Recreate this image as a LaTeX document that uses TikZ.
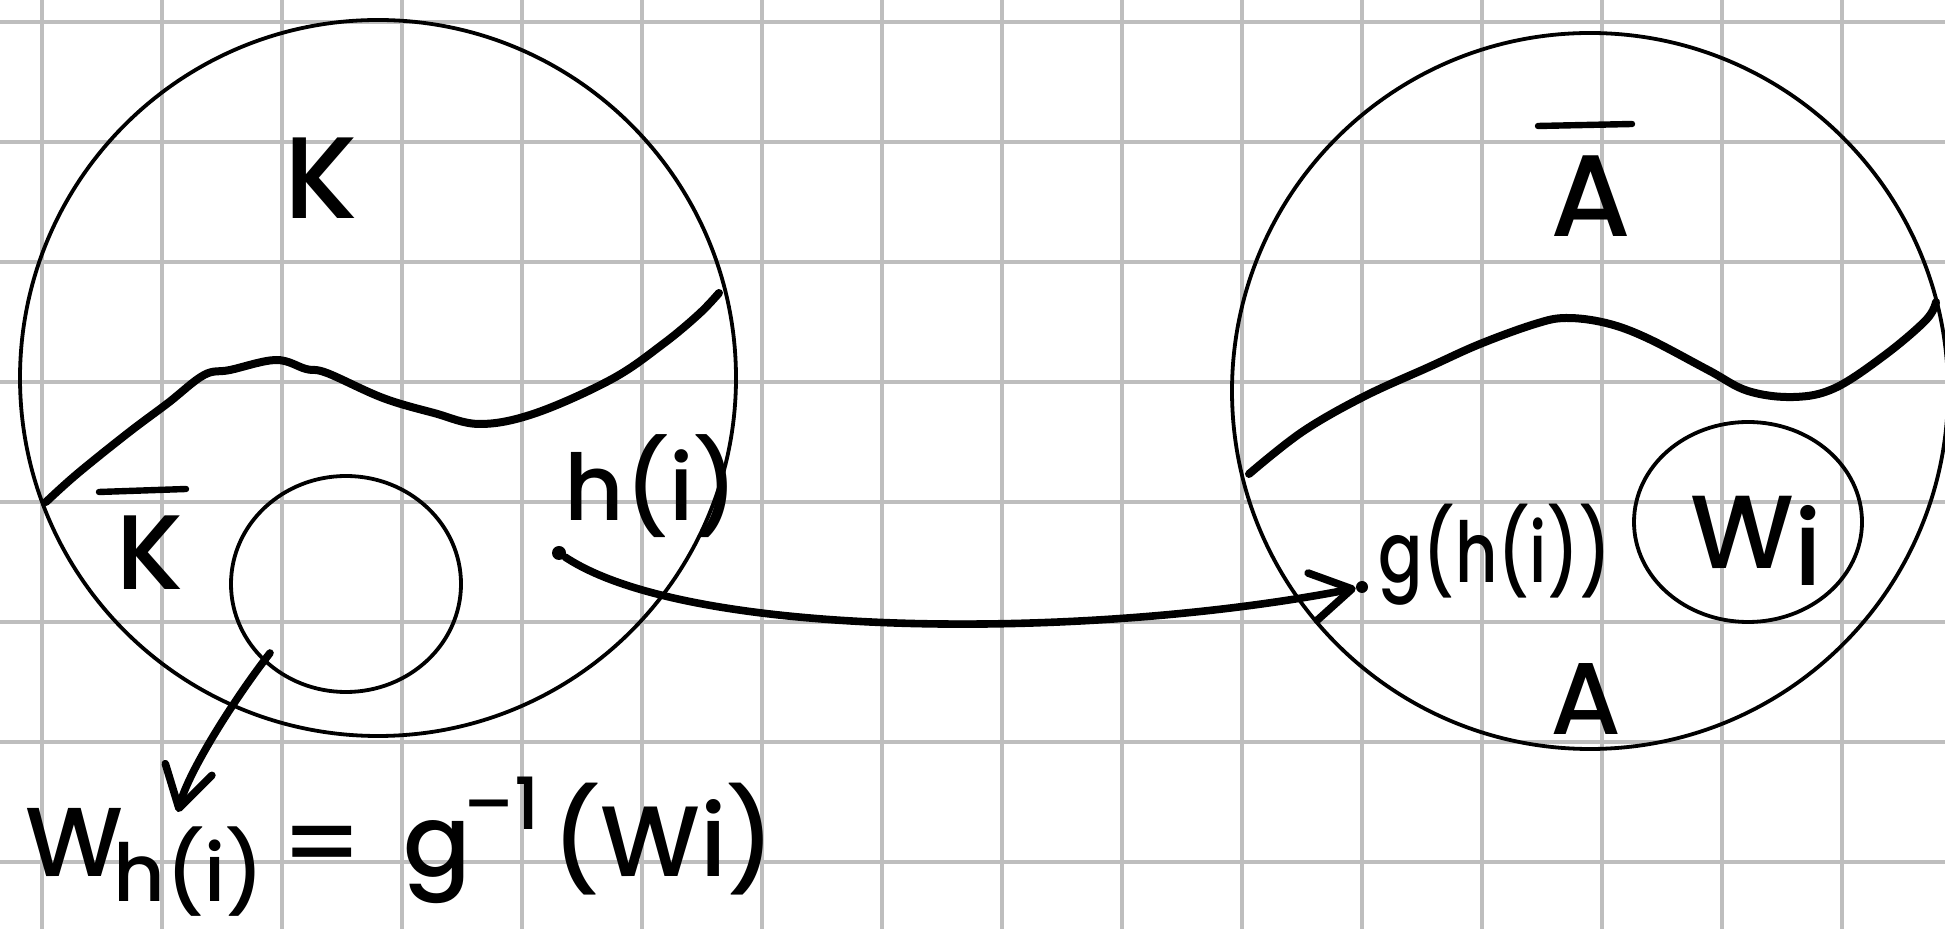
\documentclass[tikz,border=0pt]{standalone}
\usepackage{fontspec}
\newfontfamily\handfont{Poppins}[UprightFont=* Medium]
\usetikzlibrary{arrows.meta}
\definecolor{gridgray}{RGB}{190,190,190}
\tikzset{
  gridline/.style={draw=gridgray, line width=1.75pt},
  setline/.style={draw=black, line width=1.9pt},
  bound/.style={draw=black, line width=4pt, line cap=round, line join=round},
  barline/.style={draw=black, line width=3.2pt, line cap=round},
  conn/.style={draw=black, line width=3.8pt, line cap=round, -{Straight Barb[length=20pt,width=24pt,round]}},
  lbl/.style={inner sep=0pt, anchor=base, font=\handfont\fontsize{#1}{#1}\selectfont},
  dotnode/.style={circle, fill=black, inner sep=0pt, minimum size=#1},
}
\newcommand{\hsz}[1]{\fontsize{#1}{#1}\selectfont}
\begin{document}
\begin{tikzpicture}[x=0.5pt,y=-0.5pt]
\useasboundingbox (0,0) rectangle (1945,929);
\fill[white] (0,0) rectangle (1945,929);
\foreach \i in {0,...,15} \draw[gridline] ({42+120*\i},0) -- ({42+120*\i},929);
\foreach \j in {0,...,7} \draw[gridline] (0,{22+120*\j}) -- (1945,{22+120*\j});

% sets
\draw[setline] (378,378) circle[radius=358];
\draw[setline] (1590,391) circle[radius=358];
\draw[setline] (346,584) ellipse[x radius=115, y radius=108];
\draw[setline] (1748,522) ellipse[x radius=114, y radius=100];

% boundaries
\draw[bound] plot[smooth, tension=0.6] coordinates {(46,502) (77,474) (128,433) (168,403) (204,375) (230,370) (276,360) (306,369) (327,373) (383,398) (434,413) (480,424) (536,413) (612,379) (663,344) (699,314) (719,293)};
\draw[bound] plot[smooth, tension=0.6] coordinates {(1249,474) (1302,432) (1363,397) (1429,367) (1480,344) (1535,324) (1566,318) (1606,323) (1647,338) (1708,370) (1748,391) (1794,397) (1835,388) (1885,355) (1926,320) (1936,302)};

% labels
\node[lbl=58pt] (K) at (321,219) {K};
\node[lbl=53pt] (Kbar) at (150,590) {K};
\draw[barline] (99,492) -- (186,489);
\node[lbl=58pt] (Abar) at (1591,237) {A};
\draw[barline] (1538,126) -- (1632,124);
\node[lbl=51pt] (A) at (1586,735) {A};
\node[lbl=46pt, anchor=base west] (hi) at (564,521) {h(i)};
\node[lbl=42pt, anchor=base west] (ghi) at (1378,583) {\scalebox{0.78}[1]{g(h(i))}};
\node[lbl=52pt, anchor=base west] (Wi) at (1690,569) {W\raisebox{-8.5pt}{i}};

% formula
\node[lbl=49pt, anchor=base west] (lhs) at (25,877) {W\hspace{-5pt}\raisebox{-12.5pt}{\hsz{40pt}h(i)}};
\node[lbl=48pt] (eq) at (322,877) {\scalebox{1.15}[1]{=}};
\node[lbl=50pt, anchor=base west] (ginv) at (403,877) {g\hspace{-4pt}\raisebox{23.5pt}{\hsz{36pt}–1}};
\node[lbl=50pt, anchor=base west] (Wp) at (551,877) {(Wi)};

% connectors
\node[dotnode=7pt] (hdot) at (559,553) {};
\node[dotnode=6pt] (gdot) at (1362,587) {};
\draw[conn] (hdot) .. controls (690,640) and (1090,640) .. (gdot);
\coordinate (wstart) at (270,653);
\coordinate (wend) at (178,812);
\draw[conn] (wstart) .. controls (235,698) and (188,772) .. (wend);
\end{tikzpicture}
\end{document}
